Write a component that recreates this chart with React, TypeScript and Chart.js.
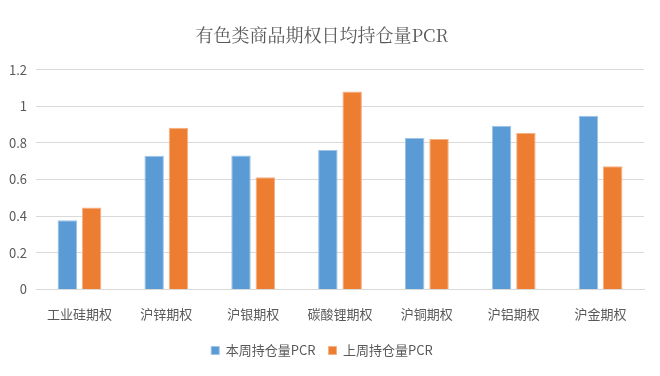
import React, { useEffect, useRef } from "react";
import { Chart, registerables } from "chart.js";

Chart.register(...registerables);

const categories = ["工业硅期权", "沪锌期权", "沪银期权", "碳酸锂期权", "沪铜期权", "沪铝期权", "沪金期权"];
const thisWeek = [0.377, 0.729, 0.731, 0.761, 0.826, 0.893, 0.948];
const lastWeek = [0.447, 0.882, 0.612, 1.081, 0.821, 0.854, 0.673];
const seriesNames = ["本周持仓量PCR", "上周持仓量PCR"];
const titleText = "有色类商品期权日均持仓量PCR";

const FONT = "'Noto Sans CJK SC', 'Microsoft YaHei', sans-serif";

export default function App() {
  const ref = useRef<HTMLCanvasElement | null>(null);

  useEffect(() => {
    document.body.style.margin = "0";
    const canvas = ref.current;
    if (!canvas) return;
    const chart = new Chart(canvas, {
      type: "bar",
      data: {
        labels: categories,
        datasets: [
          {
            label: seriesNames[0],
            data: thisWeek,
            backgroundColor: "#5B9BD5",
            borderColor: "#9DC3E6",
            borderWidth: 1,
            categoryPercentage: 0.56,
            barPercentage: 0.8,
          },
          {
            label: seriesNames[1],
            data: lastWeek,
            backgroundColor: "#ED7D31",
            borderColor: "#F4B183",
            borderWidth: 1,
            categoryPercentage: 0.56,
            barPercentage: 0.8,
          },
        ],
      },
      options: {
        responsive: false,
        animation: false,
        layout: { padding: { left: 0, right: 16, top: 16, bottom: 9 } },
        plugins: {
          title: {
            display: true,
            text: titleText,
            color: "#595959",
            font: { family: "'Noto Serif CJK SC', " + FONT, size: 18, weight: "normal" },
            padding: { top: 8, bottom: 24 },
          },
          legend: {
            position: "bottom",
            labels: {
              color: "#595959",
              font: { family: FONT, size: 13 },
              boxWidth: 8,
              boxHeight: 8,
              padding: 13,
            },
          },
          tooltip: { enabled: false },
        },
        scales: {
          x: {
            grid: { display: false },
            border: { color: "#D9D9D9", width: 1 },
            ticks: { color: "#595959", font: { family: FONT, size: 13 }, padding: 9 },
          },
          y: {
            min: 0,
            max: 1.2,
            ticks: {
              stepSize: 0.2,
              color: "#595959",
              font: { family: FONT, size: 13 },
              padding: 9,
              callback: (v: any) => String(Number(Number(v).toFixed(1))),
            },
            grid: { color: "#D9D9D9", drawTicks: false },
            border: { display: false },
          },
        },
      },
    });
    return () => chart.destroy();
  }, []);

  return <canvas ref={ref} width={660} height={376} style={{ display: "block" }} />;
}
